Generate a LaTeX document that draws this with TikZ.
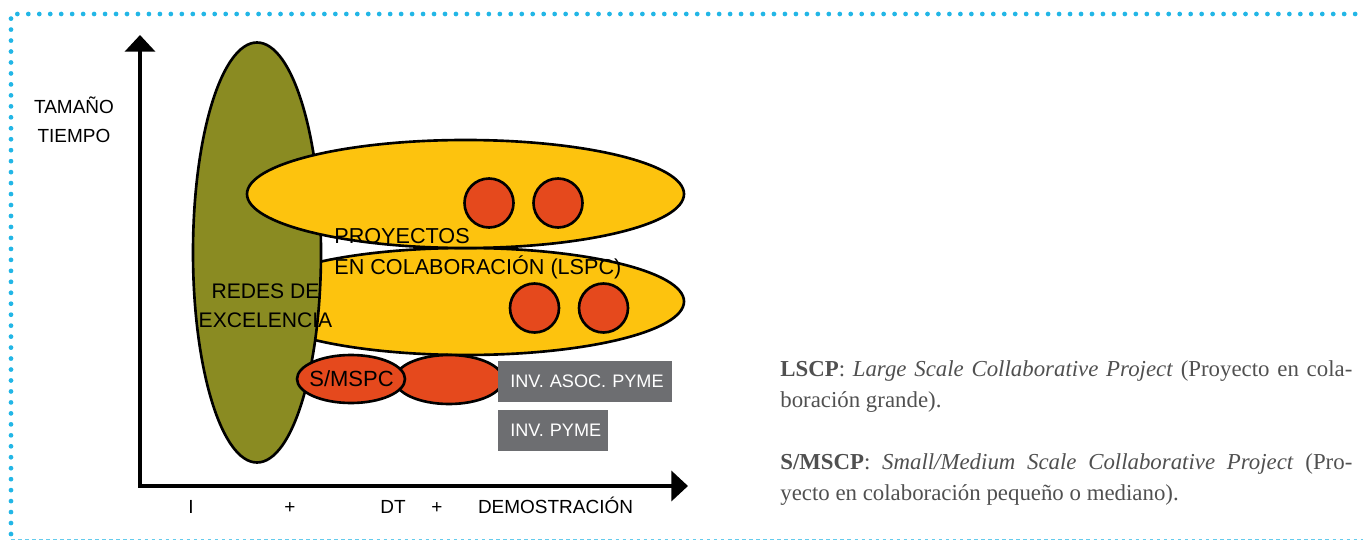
\documentclass[tikz,border=0pt]{standalone}
\usepackage{fontspec}
\setmainfont{Liberation Serif}
\newfontfamily\labelfont{Liberation Sans}
\usetikzlibrary{positioning,arrows.meta}
\definecolor{redesolive}{HTML}{8A8B22}
\definecolor{lspcyellow}{HTML}{FDC30E}
\definecolor{projred}{HTML}{E5491D}
\definecolor{pymegray}{HTML}{6D6E71}
\definecolor{framecyan}{HTML}{22B6E6}
\definecolor{notegray}{HTML}{505050}

\begin{document}
\begin{tikzpicture}[
    outline/.style={draw=black, line width=1.5pt},
    biglabel/.style={font=\labelfont\fontsize{12.3}{17.6}\selectfont, inner sep=0pt},
    axislabel/.style={font=\labelfont\fontsize{10.8}{17}\selectfont, inner sep=0pt},
    pymebox/.style={fill=pymegray, text=white, font=\labelfont\fontsize{10.3}{12}\selectfont,
      inner xsep=0.1cm, inner ysep=0pt, minimum height=0.83cm, align=left},
    axisline/.style={line width=2.8pt, {Triangle[width=17pt,length=9.5pt]}-{Triangle[width=17pt,length=9.5pt]}}
  ]
    \useasboundingbox (0,0) rectangle (27.26,10.82);

      % Frame
      \draw[framecyan, line width=2.7pt, line cap=round, dash pattern=on 0pt off 6.24pt]
        (0.22,0.14) -- (0.22,10.54) -- (27.40,10.54);
      \draw[framecyan!70, line width=1pt, dash pattern=on 2pt off 2pt] (0.22,0.03) -- (27.26,0.03);

      % Axes
      \coordinate (origin) at (2.80, 1.10);
      \coordinate (ytip) at (2.80, 10.12);
      \coordinate (xtip) at (13.76, 1.10);
      \draw[axisline] (ytip) -- (origin) -- (xtip);

      % Ellipses
      \draw[outline, fill=lspcyellow] (9.32, 4.79) ellipse [x radius=4.36, y radius=1.07]; % lower LSPC
      \draw[outline, fill=redesolive] (5.14, 5.77) ellipse [x radius=1.28, y radius=4.20]; % redes
      \draw[outline, fill=lspcyellow] (9.31, 6.94) ellipse [x radius=4.37, y radius=1.08]; % upper LSPC

      % Projects
      \draw[outline, fill=projred] (9.78, 6.76) circle [radius=0.49];
      \draw[outline, fill=projred] (11.16, 6.76) circle [radius=0.49];
      \draw[outline, fill=projred] (10.69, 4.66) circle [radius=0.49];
      \draw[outline, fill=projred] (12.07, 4.66) circle [radius=0.49];

      \draw[outline, fill=projred] (8.98, 3.23) ellipse [x radius=1.08, y radius=0.49];
      \draw[outline, fill=projred] (7.02, 3.24) ellipse [x radius=1.08, y radius=0.48];

      % Labels
      \node[biglabel, anchor=north west, align=left] (lspc) at (6.68, 6.26)
        {PROYECTOS\\EN COLABORACIÓN (LSPC)};
      \node[biglabel, anchor=north, align=center, font=\labelfont\fontsize{12}{17}\selectfont] (redes) at (5.31, 5.16)
        {REDES DE\\EXCELENCIA};
      \node[biglabel, font=\labelfont\fontsize{12.5}{14}\selectfont] (smspc) at (7.03, 3.24) {S/MSPC};

      \node[pymebox, anchor=west, text width=3.28cm] (asoc) at (9.96, 3.19) {\hspace*{0.14cm}INV. ASOC. PYME};
      \node[pymebox, text width=2.0cm, below right=0.14cm and 0cm of asoc.south west] (pyme) {\hspace*{0.14cm}INV. PYME};

      % Axis labels
      \node[axislabel, anchor=north, align=center] (tamano) at (1.48, 8.90) {TAMAÑO\\TIEMPO};
      \node[axislabel, anchor=base] (inv) at (3.82, 0.56) {I};
      \node[axislabel, anchor=base] (plus1) at (5.80, 0.56) {+};
      \node[axislabel, anchor=base] (dt) at (7.86, 0.56) {DT};
      \node[axislabel, anchor=base] (plus2) at (8.74, 0.56) {+};
      \node[axislabel, anchor=base] (demo) at (11.11, 0.56) {DEMOSTRACIÓN};

      % Notes
      \node[anchor=north west, inner sep=0pt, text width=11.44cm, align=justify, text=notegray,
        font=\fontsize{13}{17.7}\selectfont] (notes) at (15.60, 3.62)
        {\textbf{LSCP}: \textit{Large Scale Collaborative Project} (Proyecto en cola-\linebreak
         boración grande).\par\vspace{17.7pt}
         \textbf{S/MSCP}: \textit{Small/Medium Scale Collaborative Project} (Pro-\linebreak
         yecto en colaboración pequeño o mediano).};
  \end{tikzpicture}
\end{document}
